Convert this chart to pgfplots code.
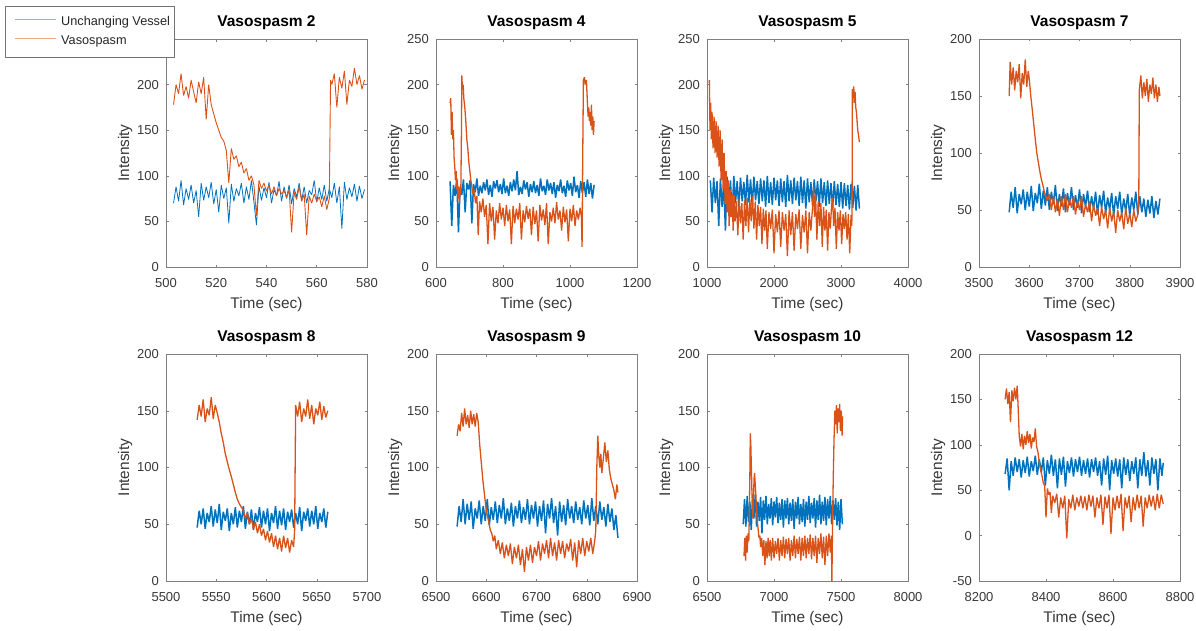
\documentclass[border=0pt]{standalone}
\usepackage{fontspec}
\setmainfont{Liberation Sans}
\usepackage{pgfplots}
\pgfplotsset{compat=1.18}
\definecolor{mblue}{RGB}{0,114,189}
\definecolor{morange}{RGB}{217,83,25}
\pgfplotsset{
 mstyle/.style={
  scale only axis, width=201pt,
  enlargelimits=false,
  axis line style={draw=black!50, line width=0.6pt},
  every tick/.style={draw=black!50, line width=0.5pt},
  major tick length=2.5pt, tick align=inside,
  /pgf/number format/assume math mode=true,
  /pgf/number format/1000 sep={},
  scaled ticks=false,
  tick label style={font=\fontsize{13}{15}\selectfont, text=black!78},
  xticklabel style={anchor=base, yshift=-20.7pt},
  yticklabel style={anchor=east, xshift=-3.7pt},
  label style={font=\fontsize{15.4}{18}\selectfont, text=black!78},
  xlabel={Time (sec)}, ylabel={Intensity},
  xlabel style={at={(axis description cs:0.5,0)}, anchor=base, yshift=-41.3pt},
  ylabel style={at={(axis description cs:-0.184,0.5)}, anchor=base},
  title style={at={(axis description cs:0.5,1)}, anchor=base, yshift=6.7pt, font=\bfseries\fontsize{15.5}{18}\selectfont},
 },
 bl/.style={mblue, line width=1.5pt, line join=bevel},
 orr/.style={morange, line width=1.3pt, line join=bevel},
}
\begin{document}
\begin{tikzpicture}
\path[use as bounding box] (0,0) rectangle (1196pt,-631pt);
% ---------------- Vasospasm 2
\begin{axis}[mstyle, at={(166pt,-267pt)}, height=228pt,
 xmin=500, xmax=580, ymin=0, ymax=250,
 xtick={500,520,...,580}, ytick={0,50,...,250},
 title={Vasospasm 2},
 legend style={at={(axis description cs:-0.801,1.1447)}, anchor=north west,
   draw=black!55, line width=0.6pt, fill=white,
   font=\fontsize{12.7}{14}\selectfont, text=black!85,
   inner xsep=4.5pt, inner ysep=10pt, row sep=6.4pt, column sep=0pt,
   nodes={inner sep=0pt, text height=9.3pt, text depth=3pt}},
 legend cell align=left,
 legend image code/.code={\path (-4.5pt,0pt) (46pt,0pt); \draw[#1, line width=0.8pt, draw opacity=0.5] (0pt,3.2pt) -- (41pt,3.2pt);},
]
\addplot[bl, line width=0.8pt] coordinates {(503,70) (504,88) (505,72) (506,95) (507,68) (508,86) (509,74) (510,90) (511,70) (512,84) (513,55) (514,92) (515,73) (516,88) (517,76) (518,93) (519,69) (520,85) (521,60) (522,90) (523,75) (524,87) (525,48) (526,91) (527,72) (528,86) (529,78) (530,92) (531,70) (532,88) (533,74) (534,95) (535,71) (536,46) (537,89) (538,73) (539,87) (540,76) (541,93) (542,70) (543,85) (544,78) (545,94) (546,72) (547,88) (548,75) (549,90) (550,69) (551,86) (552,77) (553,92) (554,73) (555,88) (556,70) (557,84) (558,79) (559,95) (560,71) (561,87) (562,74) (563,90) (564,72) (565,86) (566,76) (567,92) (568,70) (569,88) (570,42) (571,93) (572,74) (573,87) (574,77) (575,91) (576,72) (577,89) (578,75) (579,85)};
\addplot[orr, line width=0.9pt] coordinates {(503,178) (504,200) (505,190) (506,212) (507,188) (508,198) (509,185) (510,205) (511,192) (512,180) (513,203) (514,190) (515,208) (516,162) (517,200) (518,178) (519,168) (520,158) (521,150) (522,142) (523,138) (524,128) (525,92) (526,130) (527,118) (528,122) (529,110) (530,115) (531,103) (532,108) (533,95) (534,100) (535,90) (536,56) (537,95) (538,86) (539,92) (540,83) (541,90) (542,80) (543,88) (544,78) (545,86) (546,80) (547,84) (548,76) (549,85) (550,38) (551,82) (552,74) (553,88) (554,72) (555,80) (556,35) (557,78) (558,70) (559,80) (560,72) (561,77) (562,66) (563,78) (564,63) (565,75) (565.5,205) (566,200) (567,212) (568,175) (569,208) (570,196) (571,215) (572,178) (573,205) (574,198) (575,218) (576,200) (577,210) (578,195) (579,205)};
\legend{Unchanging Vessel, Vasospasm}
\end{axis}
% ---------------- Vasospasm 4
\begin{axis}[mstyle, at={(436pt,-267pt)}, height=228pt,
 xmin=600, xmax=1200, ymin=0, ymax=250,
 xtick={600,800,...,1200}, ytick={0,50,...,250},
 title={Vasospasm 4}]
\addplot[bl] coordinates {(642,94) (647,45) (652,90) (657,78) (662,97) (667,38) (672,88) (677,79) (682,96) (687,60) (692,92) (697,85) (702,95) (707,48) (712,91) (717,82) (722,97) (727,78) (732,89) (737,81) (742,93) (747,84) (752,96) (757,79) (762,90) (767,77) (772,94) (777,86) (782,95) (787,82) (792,91) (797,80) (802,97) (807,81) (812,89) (817,78) (822,93) (827,83) (832,96) (837,84) (842,105) (847,79) (852,88) (857,80) (862,95) (867,85) (872,93) (877,77) (882,91) (887,82) (892,94) (897,81) (902,90) (907,78) (912,97) (917,83) (922,89) (927,79) (932,96) (937,84) (942,92) (947,80) (952,93) (957,76) (962,90) (967,83) (972,96) (977,81) (982,89) (987,77) (992,95) (997,84) (1002,92) (1007,78) (1012,99) (1017,82) (1022,90) (1027,76) (1032,94) (1037,81) (1042,93) (1047,77) (1052,96) (1057,80) (1062,92) (1067,75) (1072,90)};
\addplot[orr] coordinates {(642,180) (644,185) (646,145) (648,170) (650,140) (652,150) (654,120) (656,110) (658,95) (660,105) (662,85) (664,95) (666,75) (668,88) (670,70) (672,85) (674,80) (676,150) (677,210) (679,195) (681,200) (683,185) (686,175) (689,160) (692,140) (695,130) (698,115) (701,105) (704,95) (707,88) (710,80) (714,85) (718,70) (722,78) (726,35) (730,72) (735,60) (740,75) (745,55) (750,68) (755,25) (760,70) (765,50) (770,66) (775,30) (780,62) (785,48) (790,70) (795,52) (800,65) (805,45) (810,68) (815,50) (820,63) (825,25) (830,67) (835,48) (840,64) (845,52) (850,70) (855,30) (860,62) (865,49) (870,67) (875,53) (880,64) (885,35) (890,66) (895,47) (900,62) (905,28) (910,68) (915,51) (920,63) (925,46) (930,70) (935,25) (940,60) (945,50) (950,65) (955,48) (960,71) (965,52) (970,62) (975,40) (980,66) (985,49) (990,63) (995,28) (1000,64) (1005,50) (1010,68) (1015,45) (1020,62) (1025,52) (1030,65) (1034,55) (1036,22) (1038,120) (1040,205) (1043,208) (1046,200) (1049,205) (1052,180) (1054,165) (1056,175) (1058,160) (1060,170) (1062,155) (1064,178) (1066,150) (1068,165) (1070,145) (1072,160)};
\end{axis}
% ---------------- Vasospasm 5
\begin{axis}[mstyle, at={(707pt,-267pt)}, height=228pt,
 xmin=1000, xmax=4000, ymin=0, ymax=250,
 xtick={1000,2000,...,4000}, ytick={0,50,...,250},
 title={Vasospasm 5}]
\addplot[bl] coordinates {(1050,95) (1075,60) (1100,98) (1125,70) (1150,94) (1175,45) (1200,97) (1225,66) (1250,92) (1275,40) (1300,99) (1325,68) (1350,95) (1375,55) (1400,100) (1425,70) (1450,94) (1475,65) (1500,98) (1525,72) (1550,93) (1575,68) (1600,101) (1625,71) (1650,96) (1675,67) (1700,99) (1725,73) (1750,94) (1775,69) (1800,97) (1825,72) (1850,95) (1875,66) (1900,100) (1925,70) (1950,93) (1975,68) (2000,98) (2025,73) (2050,95) (2075,67) (2100,97) (2125,71) (2150,94) (2175,66) (2200,101) (2225,72) (2250,95) (2275,69) (2300,98) (2325,73) (2350,94) (2375,67) (2400,99) (2425,70) (2450,95) (2475,64) (2500,97) (2525,71) (2550,93) (2575,68) (2600,96) (2625,72) (2650,94) (2675,66) (2700,97) (2725,70) (2750,93) (2775,67) (2800,95) (2825,69) (2850,92) (2875,65) (2900,94) (2925,68) (2950,91) (2975,66) (3000,93) (3025,64) (3050,92) (3075,67) (3100,90) (3125,63) (3150,91) (3175,65) (3200,89) (3225,62) (3250,90) (3275,64)};
\addplot[orr] coordinates {(1035,205) (1045,150) (1055,180) (1065,140) (1075,170) (1090,130) (1105,165) (1120,125) (1135,160) (1150,120) (1165,155) (1180,110) (1195,150) (1210,95) (1225,140) (1240,85) (1255,125) (1270,70) (1285,105) (1300,60) (1315,95) (1330,45) (1345,85) (1360,55) (1375,80) (1390,40) (1405,78) (1420,50) (1440,72) (1460,35) (1480,75) (1500,48) (1520,70) (1540,30) (1560,73) (1580,45) (1600,76) (1620,38) (1640,74) (1660,50) (1680,78) (1700,42) (1720,72) (1740,30) (1760,68) (1780,45) (1800,66) (1820,25) (1840,64) (1860,40) (1880,62) (1900,20) (1925,60) (1950,42) (1975,63) (2000,15) (2025,58) (2050,38) (2075,62) (2100,22) (2125,60) (2150,40) (2175,58) (2200,12) (2225,62) (2250,35) (2275,60) (2300,18) (2325,58) (2350,42) (2375,63) (2400,20) (2425,57) (2450,38) (2475,62) (2500,15) (2525,60) (2550,40) (2575,65) (2590,88) (2605,55) (2620,80) (2640,30) (2660,72) (2680,45) (2700,70) (2720,22) (2740,66) (2760,40) (2780,63) (2800,18) (2820,60) (2840,42) (2860,68) (2875,76) (2890,45) (2910,65) (2930,20) (2950,60) (2970,40) (2990,62) (3010,25) (3030,58) (3050,42) (3070,60) (3090,30) (3110,58) (3130,15) (3150,57) (3160,45) (3165,60) (3170,195) (3180,185) (3190,198) (3200,180) (3210,192) (3220,175) (3230,170) (3240,160) (3250,150) (3260,145) (3274,137)};
\end{axis}
% ---------------- Vasospasm 7
\begin{axis}[mstyle, at={(979pt,-267pt)}, height=228pt,
 xmin=3500, xmax=3900, ymin=0, ymax=200,
 xtick={3500,3600,...,3900}, ytick={0,50,...,200},
 title={Vasospasm 7}]
\addplot[bl] coordinates {(3560,48) (3564,66) (3568,52) (3572,70) (3576,47) (3580,64) (3584,55) (3588,68) (3592,50) (3596,66) (3600,53) (3604,71) (3608,49) (3612,65) (3616,56) (3620,73) (3624,51) (3628,67) (3632,54) (3636,70) (3640,50) (3644,66) (3648,55) (3652,72) (3656,49) (3660,64) (3664,53) (3668,69) (3672,48) (3676,65) (3680,54) (3684,70) (3688,50) (3692,63) (3696,52) (3700,68) (3704,47) (3708,64) (3712,53) (3716,67) (3720,48) (3724,62) (3728,51) (3732,66) (3736,46) (3740,63) (3744,52) (3748,67) (3752,47) (3756,61) (3760,50) (3764,65) (3768,45) (3772,62) (3776,51) (3780,66) (3784,46) (3788,60) (3792,49) (3796,64) (3800,45) (3804,61) (3808,50) (3812,66) (3816,46) (3820,62) (3824,48) (3828,60) (3832,44) (3836,59) (3840,47) (3844,62) (3848,43) (3852,58) (3856,46) (3860,60)};
\addplot[orr] coordinates {(3560,150) (3562,180) (3565,160) (3568,175) (3571,155) (3574,172) (3577,162) (3580,178) (3583,148) (3586,170) (3589,160) (3592,182) (3595,158) (3598,172) (3600,165) (3603,150) (3606,138) (3609,125) (3612,112) (3615,100) (3618,92) (3621,84) (3624,77) (3627,72) (3630,66) (3633,62) (3636,58) (3640,64) (3644,50) (3648,62) (3652,48) (3656,60) (3660,45) (3664,62) (3668,50) (3672,64) (3676,48) (3680,60) (3684,52) (3688,62) (3692,46) (3696,58) (3700,50) (3704,62) (3708,44) (3712,55) (3716,48) (3720,58) (3724,40) (3728,55) (3732,45) (3736,52) (3740,36) (3744,53) (3748,42) (3752,50) (3756,34) (3760,52) (3764,40) (3768,49) (3772,30) (3776,50) (3780,40) (3784,48) (3788,33) (3792,52) (3796,38) (3800,47) (3804,35) (3808,50) (3812,40) (3816,46) (3818,60) (3819,155) (3822,168) (3825,148) (3828,162) (3831,150) (3834,165) (3837,145) (3840,160) (3843,152) (3846,166) (3849,148) (3852,160) (3855,145) (3858,158) (3860,150)};
\end{axis}
% ---------------- Vasospasm 8
\begin{axis}[mstyle, at={(166pt,-581pt)}, height=227pt,
 xmin=5500, xmax=5700, ymin=0, ymax=200,
 xtick={5500,5550,...,5700}, ytick={0,50,...,200},
 title={Vasospasm 8}]
\addplot[bl] coordinates {(5531,47) (5533,62) (5535,50) (5537,64) (5539,46) (5541,60) (5543,52) (5545,66) (5547,48) (5549,63) (5551,51) (5553,68) (5555,45) (5557,61) (5559,53) (5561,64) (5563,44) (5565,60) (5567,50) (5569,65) (5571,47) (5573,62) (5575,52) (5577,66) (5579,46) (5581,61) (5583,50) (5585,63) (5587,45) (5589,60) (5591,52) (5593,65) (5595,47) (5597,62) (5599,50) (5601,64) (5603,44) (5605,60) (5607,51) (5609,66) (5611,46) (5613,62) (5615,49) (5617,64) (5619,45) (5621,61) (5623,52) (5625,63) (5627,47) (5629,60) (5631,50) (5633,65) (5635,44) (5637,61) (5639,53) (5641,64) (5643,48) (5645,62) (5647,50) (5649,66) (5651,46) (5653,60) (5655,52) (5657,64) (5659,47) (5661,61)};
\addplot[orr] coordinates {(5531,142) (5533,155) (5535,145) (5537,160) (5539,140) (5541,152) (5543,146) (5545,162) (5547,143) (5549,155) (5551,148) (5553,140) (5555,130) (5557,122) (5559,112) (5561,105) (5563,98) (5565,92) (5567,85) (5569,78) (5571,72) (5573,68) (5575,65) (5577,62) (5579,55) (5581,60) (5583,50) (5585,55) (5587,46) (5589,52) (5591,42) (5593,50) (5595,40) (5597,46) (5599,36) (5601,44) (5603,34) (5605,42) (5607,30) (5609,40) (5611,28) (5613,38) (5615,26) (5617,40) (5619,29) (5621,38) (5623,25) (5625,36) (5627,30) (5628,45) (5629,155) (5631,145) (5633,158) (5635,140) (5637,152) (5639,145) (5641,160) (5643,143) (5645,155) (5647,138) (5649,152) (5651,146) (5653,158) (5655,142) (5657,154) (5659,144) (5661,150)};
\end{axis}
% ---------------- Vasospasm 9
\begin{axis}[mstyle, at={(436pt,-581pt)}, height=227pt,
 xmin=6500, xmax=6900, ymin=0, ymax=200,
 xtick={6500,6600,...,6900}, ytick={0,50,...,200},
 title={Vasospasm 9}]
\addplot[bl] coordinates {(6542,48) (6546,66) (6550,52) (6554,72) (6558,50) (6562,68) (6566,54) (6570,70) (6574,46) (6578,64) (6582,55) (6586,71) (6590,50) (6594,66) (6598,53) (6602,72) (6606,49) (6610,65) (6614,54) (6618,70) (6622,51) (6626,67) (6630,55) (6634,73) (6638,50) (6642,64) (6646,53) (6650,69) (6654,48) (6658,66) (6662,55) (6666,71) (6670,51) (6674,65) (6678,54) (6682,72) (6686,50) (6690,67) (6694,55) (6698,70) (6702,48) (6706,66) (6710,53) (6714,71) (6718,42) (6722,68) (6726,55) (6730,73) (6734,51) (6738,66) (6742,40) (6746,70) (6750,52) (6754,67) (6758,49) (6762,72) (6766,55) (6770,66) (6774,51) (6778,70) (6782,54) (6786,65) (6790,50) (6794,71) (6798,55) (6802,67) (6806,49) (6810,73) (6814,53) (6818,66) (6822,50) (6826,70) (6830,54) (6834,65) (6838,48) (6842,68) (6846,52) (6850,64) (6854,45) (6858,58) (6862,38)};
\addplot[orr] coordinates {(6542,128) (6545,138) (6548,132) (6551,148) (6554,136) (6557,152) (6560,138) (6563,146) (6566,135) (6569,150) (6572,138) (6575,147) (6578,136) (6581,148) (6584,140) (6587,120) (6590,105) (6593,90) (6596,78) (6599,66) (6602,58) (6605,52) (6608,45) (6611,42) (6614,35) (6617,40) (6620,28) (6624,36) (6628,24) (6632,34) (6636,20) (6640,32) (6644,22) (6648,33) (6652,15) (6656,30) (6660,20) (6664,32) (6668,14) (6672,28) (6676,8) (6680,30) (6684,18) (6688,32) (6692,16) (6696,30) (6700,22) (6704,35) (6708,18) (6712,33) (6716,24) (6720,36) (6724,20) (6728,38) (6732,22) (6736,34) (6740,18) (6744,36) (6748,24) (6752,35) (6756,20) (6760,33) (6764,26) (6768,37) (6772,18) (6776,34) (6780,12) (6784,36) (6788,24) (6792,38) (6796,22) (6800,35) (6804,26) (6808,38) (6812,24) (6816,36) (6818,45) (6820,100) (6822,128) (6824,110) (6826,100) (6828,112) (6830,95) (6833,108) (6836,122) (6839,105) (6842,115) (6845,98) (6848,90) (6851,85) (6854,80) (6857,72) (6860,85) (6862,78)};
\end{axis}
% ---------------- Vasospasm 10
\begin{axis}[mstyle, at={(707pt,-581pt)}, height=227pt,
 xmin=6500, xmax=8000, ymin=0, ymax=200,
 xtick={6500,7000,...,8000}, ytick={0,50,...,200},
 title={Vasospasm 10}]
\addplot[bl] coordinates {(6770,50) (6780,72) (6790,48) (6800,75) (6810,52) (6820,70) (6830,45) (6840,73) (6850,55) (6860,76) (6870,48) (6880,70) (6890,53) (6900,74) (6910,42) (6920,71) (6930,54) (6940,75) (6950,50) (6960,68) (6970,55) (6980,73) (6990,49) (7000,70) (7010,56) (7020,74) (7030,51) (7040,69) (7050,54) (7060,72) (7070,47) (7080,71) (7090,55) (7100,73) (7110,50) (7120,69) (7130,53) (7140,72) (7150,46) (7160,70) (7170,55) (7180,74) (7190,50) (7200,68) (7210,52) (7220,72) (7230,48) (7240,70) (7250,54) (7260,75) (7270,51) (7280,69) (7290,55) (7300,73) (7310,47) (7320,71) (7330,54) (7340,76) (7350,50) (7360,70) (7370,53) (7380,74) (7390,49) (7400,72) (7410,55) (7420,75) (7430,50) (7440,71) (7450,54) (7460,73) (7470,49) (7480,70) (7490,45) (7500,72) (7510,50)};
\addplot[orr] coordinates {(6776,22) (6782,38) (6788,18) (6794,40) (6800,25) (6806,42) (6812,35) (6816,60) (6820,95) (6823,130) (6827,120) (6831,100) (6835,80) (6839,65) (6843,55) (6847,72) (6851,90) (6855,95) (6860,85) (6865,75) (6870,62) (6876,52) (6882,45) (6888,38) (6894,40) (6900,30) (6908,38) (6916,22) (6924,36) (6932,14) (6940,35) (6948,20) (6956,38) (6964,22) (6972,36) (6980,18) (6990,38) (7000,20) (7010,35) (7020,24) (7030,38) (7040,18) (7050,36) (7060,22) (7070,39) (7080,20) (7090,37) (7100,24) (7110,38) (7120,18) (7130,36) (7140,22) (7150,40) (7160,20) (7170,37) (7180,24) (7190,39) (7200,18) (7210,38) (7220,22) (7230,40) (7240,20) (7250,38) (7260,24) (7270,41) (7280,19) (7290,38) (7300,22) (7310,40) (7320,16) (7330,38) (7340,24) (7350,42) (7360,20) (7370,39) (7380,14) (7390,40) (7400,22) (7410,42) (7420,25) (7428,40) (7432,0) (7436,40) (7442,90) (7448,125) (7454,150) (7460,138) (7466,155) (7472,130) (7478,152) (7484,140) (7490,156) (7496,132) (7502,150) (7508,128) (7512,145)};
\end{axis}
% ---------------- Vasospasm 12
\begin{axis}[mstyle, at={(979pt,-581pt)}, height=227pt,
 xmin=8200, xmax=8800, ymin=-50, ymax=200,
 xtick={8200,8400,...,8800}, ytick={-50,0,...,200},
 title={Vasospasm 12}]
\addplot[bl] coordinates {(8278,68) (8284,85) (8290,50) (8296,82) (8302,66) (8308,86) (8314,70) (8320,84) (8326,64) (8332,83) (8338,69) (8344,87) (8350,65) (8356,82) (8362,71) (8368,88) (8374,67) (8380,84) (8386,70) (8392,86) (8398,55) (8404,83) (8410,68) (8416,89) (8422,66) (8428,84) (8434,52) (8440,85) (8446,67) (8452,87) (8458,54) (8464,82) (8470,69) (8476,86) (8482,65) (8488,84) (8494,70) (8500,87) (8506,66) (8512,83) (8518,68) (8524,85) (8530,64) (8536,84) (8542,70) (8548,86) (8554,66) (8560,82) (8566,55) (8572,85) (8578,67) (8584,88) (8590,50) (8596,83) (8602,68) (8608,85) (8614,65) (8620,84) (8626,52) (8632,86) (8638,67) (8644,84) (8650,60) (8656,82) (8662,68) (8668,86) (8674,52) (8680,84) (8686,66) (8692,92) (8698,65) (8704,83) (8710,55) (8716,86) (8722,68) (8728,84) (8734,50) (8740,85) (8746,66) (8750,80)};
\addplot[orr] coordinates {(8278,150) (8282,162) (8286,145) (8290,158) (8294,125) (8298,160) (8302,148) (8306,163) (8310,150) (8314,165) (8317,140) (8320,110) (8324,98) (8328,112) (8332,95) (8336,110) (8340,100) (8344,115) (8348,102) (8352,112) (8356,96) (8360,108) (8364,103) (8368,118) (8372,98) (8376,92) (8380,80) (8384,72) (8388,66) (8392,58) (8396,55) (8400,20) (8404,52) (8408,45) (8412,48) (8416,25) (8420,44) (8426,36) (8432,46) (8438,20) (8444,42) (8450,30) (8456,44) (8462,-3) (8468,40) (8474,30) (8480,45) (8486,28) (8492,42) (8498,32) (8504,44) (8510,30) (8516,43) (8522,28) (8528,45) (8534,32) (8540,44) (8546,20) (8552,42) (8558,30) (8564,45) (8570,12) (8576,43) (8582,30) (8588,45) (8594,2) (8600,42) (8606,28) (8612,44) (8618,30) (8624,46) (8630,5) (8636,42) (8642,30) (8648,44) (8654,15) (8660,42) (8666,28) (8672,45) (8678,30) (8684,44) (8690,10) (8696,42) (8702,30) (8708,45) (8714,32) (8720,44) (8726,28) (8732,46) (8738,30) (8744,45) (8750,35)};
\end{axis}
\end{tikzpicture}
\end{document}
